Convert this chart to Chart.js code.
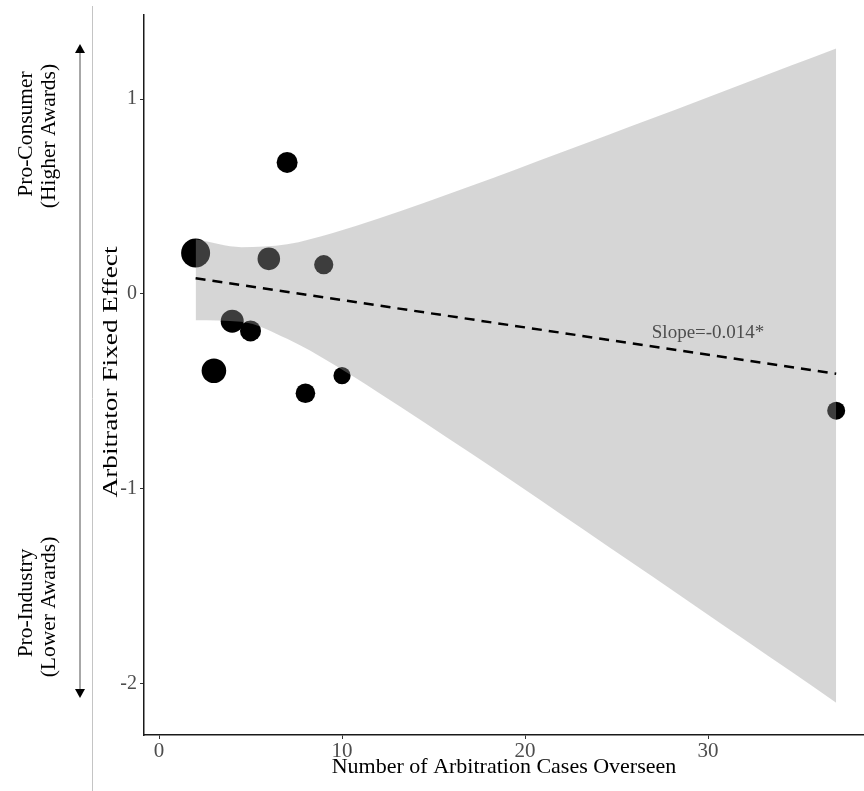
<!DOCTYPE html>
<html>
<head>
<meta charset="utf-8">
<script src="https://cdn.jsdelivr.net/npm/chart.js@4/dist/chart.umd.min.js"></script>
<style>
  html, body { margin: 0; padding: 0; background: #ffffff; }
  #wrap { position: relative; width: 864px; height: 791px; }
</style>
</head>
<body>
<div id="wrap"><canvas id="chart" width="864" height="791"></canvas></div>
<script>
// Arbitrators: number of cases each one oversaw and their estimated fixed effect
const caseCounts   = [2, 3, 4, 5, 6, 7, 8, 9, 10, 37];
const fixedEffects = [0.21, -0.395, -0.14, -0.19, 0.18, 0.675, -0.51, 0.15, -0.42, -0.60];
// marker radius (px) for each arbitrator
const markerRadius = [14.5, 12.3, 11.5, 10.5, 11.3, 10.5, 9.8, 9.6, 8.6, 9];

// 95% confidence band around the linear fit
const bandX     = [2, 4.5, 7, 9.5, 12, 14.5, 17, 19.5, 22, 24.5, 27, 29.5, 32, 34.5, 37];
const bandUpper = [0.28, 0.24, 0.255, 0.313, 0.387, 0.468, 0.553, 0.639, 0.727, 0.815, 0.903, 0.992, 1.082, 1.171, 1.26];
const bandLower = [-0.135, -0.143, -0.231, -0.36, -0.507, -0.66, -0.816, -0.974, -1.134, -1.294, -1.454, -1.615, -1.776, -1.937, -2.10];

// linear fit
const fitRange  = [2, 37];
const fitStartY = 0.08;
const fitSlope  = -0.014;
const slopeLabel = 'Slope=-0.014*';

const xTicks = [0, 10, 20, 30];
const yTicks = [-2, -1, 0, 1];

const SERIF = '"Liberation Serif", "Times New Roman", serif';

const pts = caseCounts.map((x, i) => ({ x, y: fixedEffects[i] }));
const upper = bandX.map((x, i) => ({ x, y: bandUpper[i] }));
const lower = bandX.map((x, i) => ({ x, y: bandLower[i] }));
const fitLine = fitRange.map(x => ({ x, y: fitStartY + fitSlope * (x - fitRange[0]) }));

// Slope annotation, placed in data coordinates
const slopeText = {
  id: 'slopeText',
  afterDatasetsDraw(chart) {
    const { ctx, scales } = chart;
    ctx.save();
    ctx.font = '19px ' + SERIF;
    ctx.fillStyle = '#4d4d4d';
    ctx.textAlign = 'center';
    ctx.textBaseline = 'middle';
    ctx.fillText(slopeLabel, scales.x.getPixelForValue(30), scales.y.getPixelForValue(-0.2));
    ctx.restore();
  }
};

// Y title plus the direction guide on the left margin
const sidePanel = {
  id: 'sidePanel',
  afterDraw(chart) {
    const ctx = chart.ctx;
    ctx.save();

    // separator line
    ctx.strokeStyle = '#c4c4c4';
    ctx.lineWidth = 1;
    ctx.beginPath();
    ctx.moveTo(92.5, 6);
    ctx.lineTo(92.5, 791);
    ctx.stroke();

    // double-headed arrow
    ctx.strokeStyle = '#8a8a8a';
    ctx.lineWidth = 1.5;
    ctx.beginPath();
    ctx.moveTo(80, 52);
    ctx.lineTo(80, 690);
    ctx.stroke();
    ctx.fillStyle = '#000';
    ctx.beginPath();
    ctx.moveTo(80, 44); ctx.lineTo(75, 53); ctx.lineTo(85, 53); ctx.closePath();
    ctx.fill();
    ctx.beginPath();
    ctx.moveTo(80, 698); ctx.lineTo(75, 689); ctx.lineTo(85, 689); ctx.closePath();
    ctx.fill();

    const vText = (txt, bx, cy, size, stretch) => {
      ctx.save();
      ctx.translate(bx, cy);
      ctx.rotate(-Math.PI / 2);
      ctx.scale(stretch, 1);
      ctx.font = size + 'px ' + SERIF;
      ctx.fillStyle = '#000';
      ctx.textAlign = 'center';
      ctx.textBaseline = 'alphabetic';
      ctx.fillText(txt, 0, 0);
      ctx.restore();
    };
    vText('Pro-Consumer', 32, 134, 21.5, 1);
    vText('(Higher Awards)', 55, 136, 21.5, 1);
    vText('Pro-Industry', 32, 603, 21.5, 1);
    vText('(Lower Awards)', 55, 607, 21.5, 1);

    // y axis title
    vText('Arbitrator Fixed Effect', 116.5, 372, 22, 1.24);

    ctx.restore();
  }
};

new Chart(document.getElementById('chart'), {
  type: 'scatter',
  data: {
    datasets: [
      {
        label: 'fit',
        data: fitLine,
        showLine: true,
        borderColor: '#000',
        borderWidth: 2.5,
        borderDash: [10, 7],
        pointRadius: 0,
        fill: false
      },
      {
        label: 'upper',
        data: upper,
        showLine: true,
        borderColor: 'rgba(0,0,0,0)',
        borderWidth: 0,
        pointRadius: 0,
        cubicInterpolationMode: 'monotone',
        backgroundColor: 'rgba(153,153,153,0.4)',
        fill: '+1'
      },
      {
        label: 'lower',
        data: lower,
        showLine: true,
        borderColor: 'rgba(0,0,0,0)',
        borderWidth: 0,
        pointRadius: 0,
        cubicInterpolationMode: 'monotone',
        fill: false
      },
      {
        label: 'arbitrators',
        data: pts,
        showLine: false,
        pointRadius: markerRadius,
        pointHoverRadius: markerRadius,
        backgroundColor: '#000',
        borderWidth: 0
      }
    ]
  },
  options: {
    responsive: false,
    animation: false,
    devicePixelRatio: 1,
    layout: { autoPadding: false, padding: { left: 95, top: 14, right: 0, bottom: 0 } },
    plugins: {
      legend: { display: false },
      tooltip: { enabled: false }
    },
    scales: {
      x: {
        type: 'linear',
        min: -0.82,
        max: 38.52,
        afterBuildTicks: s => { s.ticks = xTicks.map(v => ({ value: v })); },
        afterFit: s => { s.height = 56; },
        ticks: {
          color: '#4d4d4d',
          font: { family: SERIF, size: 21 },
          padding: 0,
          maxRotation: 0,
          autoSkip: false
        },
        grid: { drawOnChartArea: false, drawTicks: true, tickLength: 4, color: '#333', lineWidth: 1 },
        border: { display: true, color: '#1a1a1a', width: 1.5 },
        title: {
          display: true,
          text: 'Number of Arbitration Cases Overseen',
          color: '#000',
          font: { family: SERIF, size: 22 },
          padding: { top: 0, bottom: 11 }
        }
      },
      y: {
        type: 'linear',
        min: -2.265,
        max: 1.432,
        afterBuildTicks: s => { s.ticks = yTicks.map(v => ({ value: v })); },
        afterFit: s => { s.width = 49; },
        ticks: {
          color: '#4d4d4d',
          font: { family: SERIF, size: 20 },
          padding: 3,
          autoSkip: false
        },
        grid: { drawOnChartArea: false, drawTicks: true, tickLength: 4, color: '#333', lineWidth: 1 },
        border: { display: true, color: '#1a1a1a', width: 1.5 },
        title: { display: false }
      }
    }
  },
  plugins: [slopeText, sidePanel]
});
</script>
</body>
</html>
